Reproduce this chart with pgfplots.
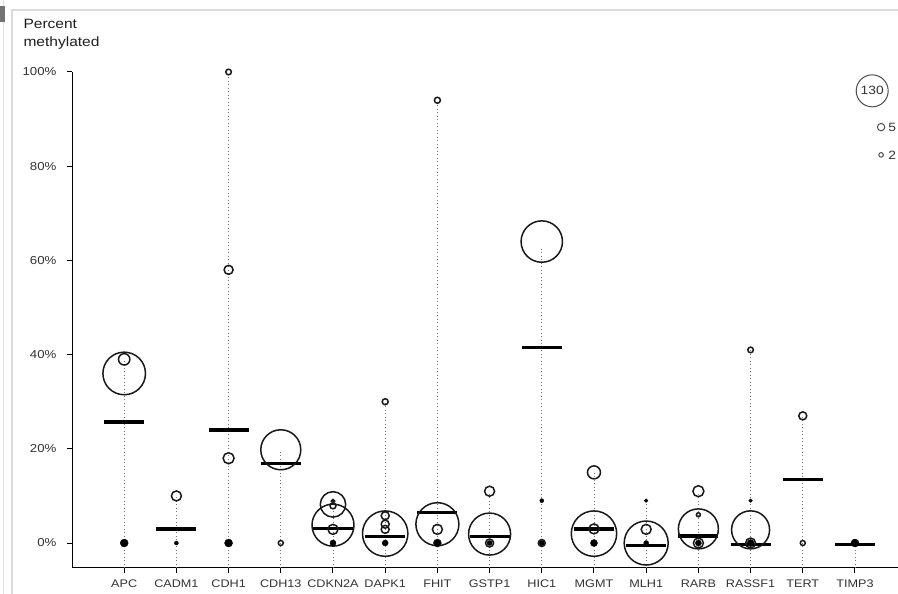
\documentclass[border=0pt]{standalone}
\usepackage{fontspec}
\setmainfont{Liberation Sans}[FakeStretch=1.15]
\usepackage{pgfplots}
\pgfplotsset{compat=1.18}
\definecolor{txt}{HTML}{333333}
\begin{document}
\begin{tikzpicture}
\useasboundingbox (0pt,0pt) rectangle (898pt,594pt);
\fill[white] (0pt,0pt) rectangle (898pt,594pt);
\draw[black!14, line width=1.5pt] (12pt,-10pt) rectangle (910pt,584pt);
\draw[black!12, line width=1pt] (3pt,0pt) -- (3pt,594pt);
\fill[black!55] (0pt,572pt) rectangle (5pt,588pt);
\node[anchor=base west, text=black!88, font=\fontsize{13.5}{15}\selectfont] at (20pt,565.7pt) {Percent};
\node[anchor=base west, text=black!88, font=\fontsize{13.5}{15}\selectfont] at (20pt,547.3pt) {methylated};
\begin{axis}[
  at={(72pt,26pt)}, anchor=south west, scale only axis,
  width=826.3pt, height=496pt,
  xmin=-1, xmax=14.83, ymin=-5.3, ymax=100,
  clip=false,
  axis x line=bottom, axis y line=left,
  axis line style={-, line width=1pt, black},
  tick align=outside, major tick length=5pt,
  tick style={black, line width=1pt},
  xtick={0,...,14},
  xticklabels={APC,CADM1,CDH1,CDH13,CDKN2A,DAPK1,FHIT,GSTP1,HIC1,MGMT,MLH1,RARB,RASSF1,TERT,TIMP3},
  ytick={0,20,40,60,80,100},
  yticklabel={\pgfmathprintnumber{\tick}\%},
  /pgf/number format/assume math mode=true,
  xticklabel style={font=\fontsize{11}{13}\selectfont, text=txt, yshift=-3pt},
  yticklabel style={font=\fontsize{11.5}{13}\selectfont, text=txt, xshift=-7pt},
  unbounded coords=jump,
]
% dotted range lines
\addplot[black!55, line width=0.9pt, dash pattern=on 0.9pt off 2.6pt] coordinates {
(0,-5.3) (0,39) (0,nan)
(1,-5.3) (1,10) (1,nan)
(2,-5.3) (2,100) (2,nan)
(3,-5.3) (3,19.8) (3,nan)
(4,-5.3) (4,9) (4,nan)
(5,-5.3) (5,30) (5,nan)
(6,-5.3) (6,94) (6,nan)
(7,-5.3) (7,11) (7,nan)
(8,-5.3) (8,63) (8,nan)
(9,-5.3) (9,15) (9,nan)
(10,-5.3) (10,9) (10,nan)
(11,-5.3) (11,11) (11,nan)
(12,-5.3) (12,41) (12,nan)
(13,-5.3) (13,27) (13,nan)
(14,-5.3) (14,0)
};
% open circles (radius in pt)
\addplot[scatter, only marks, mark=o,
  scatter/use mapped color={draw=black!90},
  mark options={line width=1.5pt},
  visualization depends on={\thisrow{r}\as\rr},
  scatter/@pre marker code/.append style={/tikz/mark size=\rr}]
table {
x y r
0 36 21.3
0 39 5.7
1 10 5
2 100 2.8
2 58 4.5
2 18 5.5
3 19.8 20
3 0 2.5
4 8.2 12.7
4 3.8 21
4 2.9 5
4 7.9 3
4 8.9 1.6
5 30 3
5 5.8 4
5 4.0 4
5 2.9 4
5 2.0 22.7
6 94 3
6 4.0 21.5
6 2.9 5
6 0 3.5
7 11 5
7 1.9 21
7 0 4
8 64 20.7
8 0 3.5
9 15 6.5
9 2.0 22.7
9 3.0 5
10 2.9 5
10 0 22
11 11 5.5
11 6 2
11 3.0 20
11 0 5
12 41 2.8
12 2.8 19
12 0 5
13 27 4
13 0 2.5
};
% filled dots
\addplot[scatter, only marks, mark=*,
  scatter/use mapped color={draw=black, fill=black},
  visualization depends on={\thisrow{r}\as\rr},
  scatter/@pre marker code/.append style={/tikz/mark size=\rr}]
table {
x y r
0 0 4
1 0 2
2 0 4
4 0 3
5 0 3
6 0 3
7 0 2.5
8 9 2
8 0 2.5
9 0 3.5
10 9 1.8
10 0 2.5
11 0 3
12 9 1.8
12 0 3.5
14 0 4
};
% mean bars
\addplot[black, line width=3.6pt] coordinates {
(-0.383,25.7) (0.383,25.7) (0,nan)
(0.617,3.0) (1.383,3.0) (1,nan)
(1.617,24.0) (2.383,24.0) (2,nan)
(2.617,16.9) (3.383,16.9) (3,nan)
(3.617,3.1) (4.383,3.1) (4,nan)
(4.617,1.4) (5.383,1.4) (5,nan)
(5.617,6.5) (6.383,6.5) (6,nan)
(6.617,1.4) (7.383,1.4) (7,nan)
(7.617,41.5) (8.383,41.5) (8,nan)
(8.617,3.0) (9.383,3.0) (9,nan)
(9.617,-0.5) (10.383,-0.5) (10,nan)
(10.617,1.5) (11.383,1.5) (11,nan)
(11.617,-0.3) (12.383,-0.3) (12,nan)
(12.617,13.5) (13.383,13.5) (13,nan)
(13.617,-0.3) (14.383,-0.3)
};
% size legend
\addplot[scatter, only marks, mark=o,
  scatter/use mapped color={draw=black!70},
  mark options={line width=1pt},
  visualization depends on={\thisrow{r}\as\rr},
  scatter/@pre marker code/.append style={/tikz/mark size=\rr}]
table {
x y r
14.33 96 16
14.50 88.3 3.7
14.50 82.4 2.3
};
\node[font=\fontsize{12}{14}\selectfont, text=txt] at (axis cs:14.33,96) {130};
\node[anchor=west, inner sep=0pt, font=\fontsize{12}{14}\selectfont, text=txt] at (axis cs:14.635,88.3) {5};
\node[anchor=west, inner sep=0pt, font=\fontsize{12}{14}\selectfont, text=txt] at (axis cs:14.635,82.4) {2};
\end{axis}
\end{tikzpicture}
\end{document}
